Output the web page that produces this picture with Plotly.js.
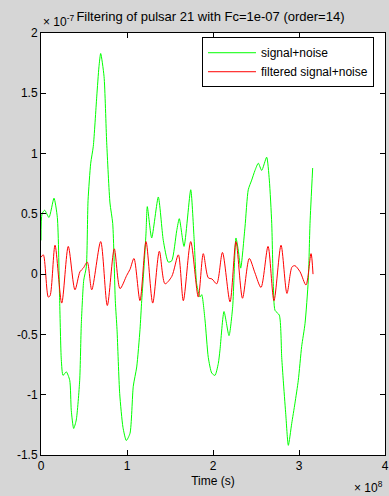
<!DOCTYPE html>
<html>
<head>
<meta charset="utf-8">
<script src="https://cdn.plot.ly/plotly-3.0.1.min.js"></script>
<style>html,body{margin:0;padding:0;background:#d6d6d6;}#chart{width:389px;height:496px;}</style>
</head>
<body>
<div id="chart"></div>
<script>
// Time in units of 1e8 s, amplitudes in units of 1e-7
const noisyTime = [0.000,0.012,0.043,0.093,0.151,0.190,0.217,0.236,0.256,0.294,0.334,0.352,0.380,0.410,0.450,0.469,0.497,0.527,0.547,0.578,0.608,0.648,0.674,0.694,0.733,0.764,0.802,0.834,0.864,0.884,0.915,0.953,0.992,1.035,1.073,1.113,1.151,1.171,1.198,1.221,1.236,1.287,1.364,1.422,1.480,1.520,1.578,1.608,1.663,1.741,1.779,1.810,1.849,1.869,1.907,1.945,1.985,2.023,2.062,2.081,2.128,2.186,2.229,2.267,2.294,2.322,2.372,2.410,2.450,2.488,2.527,2.566,2.624,2.655,2.683,2.701,2.721,2.771,2.799,2.817,2.845,2.876,2.915,2.953,2.992,3.031,3.070,3.108,3.128,3.159];
const noisySignal = [0.28,0.50,0.53,0.47,0.63,0.47,-0.22,-0.71,-0.84,-0.81,-0.88,-1.13,-1.28,-1.21,-0.88,-0.41,-0.05,0.06,0.61,0.92,1.06,1.47,1.72,1.83,1.64,1.09,0.59,0.42,-0.22,-0.46,-0.99,-1.27,-1.38,-1.32,-0.93,-0.77,-0.46,-0.22,0.06,0.34,0.56,0.30,0.64,0.28,0.10,0.11,0.36,0.46,0.23,0.70,0.31,-0.08,-0.19,-0.17,-0.38,-0.69,-0.82,-0.84,-0.74,-0.63,-0.31,-0.51,-0.27,0.30,0.20,0.05,0.39,0.70,0.78,0.86,0.92,0.86,0.97,0.78,0.42,-0.08,-0.30,-0.34,-0.69,-0.88,-1.15,-1.42,-1.24,-1.07,-0.88,-0.60,-0.41,-0.05,0.42,0.88];
const filteredTime = [0.000,0.027,0.085,0.105,0.163,0.241,0.317,0.395,0.453,0.492,0.538,0.590,0.694,0.771,0.852,0.919,0.997,1.035,1.081,1.151,1.221,1.299,1.376,1.442,1.520,1.597,1.655,1.741,1.829,1.887,1.945,1.988,2.043,2.110,2.198,2.267,2.343,2.422,2.488,2.558,2.640,2.709,2.791,2.860,2.919,2.953,3.012,3.081,3.140,3.163];
const filteredSignal = [0.14,0.16,-0.19,-0.18,0.24,-0.24,0.23,-0.13,0.02,0.05,0.10,-0.13,0.27,-0.26,0.21,-0.12,-0.01,0.04,0.13,-0.22,0.27,-0.24,0.19,-0.08,-0.02,0.16,-0.22,0.27,-0.19,0.17,-0.03,-0.04,-0.08,0.18,-0.23,0.27,-0.20,0.13,0.01,-0.11,0.23,-0.22,0.24,-0.16,0.06,0.07,0.02,-0.09,0.17,0.00];
const xTicks = [0,1,2,3,4];
const yTicks = [-1.5,-1,-0.5,0,0.5,1,1.5,2];
const yTickText = ['-1.5','-1','-0.5','0','0.5','1','1.5','2'];

const font = {family: 'Liberation Sans, Arial, sans-serif', size: 12, color: '#000'};
const titleFont = {family: 'Liberation Sans, Arial, sans-serif', size: 13, color: '#000'};
const traces = [
  {x: noisyTime, y: noisySignal, type: 'scatter', mode: 'lines', name: 'signal+noise',
   line: {color: '#00ff00', width: 1, shape: 'spline', smoothing: 0.6}},
  {x: filteredTime, y: filteredSignal, type: 'scatter', mode: 'lines', name: 'filtered signal+noise',
   line: {color: '#ff0000', width: 1, shape: 'spline', smoothing: 0.8}}
];
const axisCommon = {showline: true, linecolor: '#000', linewidth: 1, mirror: 'ticks', ticks: 'inside',
  ticklen: 5, tickcolor: '#000', showgrid: false, zeroline: false, tickfont: font};
const layout = {
  width: 389, height: 496,
  paper_bgcolor: '#d6d6d6', plot_bgcolor: '#ffffff',
  margin: {l: 41, r: 4, t: 33, b: 41},
  font: font,
  title: {text: 'Filtering of pulsar 21 with Fc=1e-07 (order=14)', font: titleFont, x: 0.541, xanchor: 'center', y: 0.966, yanchor: 'middle'},
  xaxis: Object.assign({}, axisCommon, {range: [0, 4], tickvals: xTicks, ticktext: xTicks.map(String),
    title: {text: 'Time (s)', font: font, standoff: 4}}),
  yaxis: Object.assign({}, axisCommon, {range: [-1.5, 2], tickvals: yTicks, ticktext: yTickText}),
  showlegend: true,
  legend: {x: 0.468, y: 0.99, xanchor: 'left', yanchor: 'top', bgcolor: '#ffffff', bordercolor: '#000',
    borderwidth: 1, font: font, tracegroupgap: 0, itemwidth: 48},
  annotations: [
    {xref: 'paper', yref: 'paper', x: 0.0, y: 1.0, xanchor: 'left', yanchor: 'bottom', yshift: 2,
     text: '× 10<sup>-7</sup>', showarrow: false, font: font},
    {xref: 'paper', yref: 'paper', x: 1.0, y: 0, xanchor: 'right', yanchor: 'middle', yshift: -32,
     text: '× 10<sup>8</sup>', showarrow: false, font: font}
  ]
};
Plotly.newPlot('chart', traces, layout, {displayModeBar: false, staticPlot: true});
</script>
</body>
</html>
